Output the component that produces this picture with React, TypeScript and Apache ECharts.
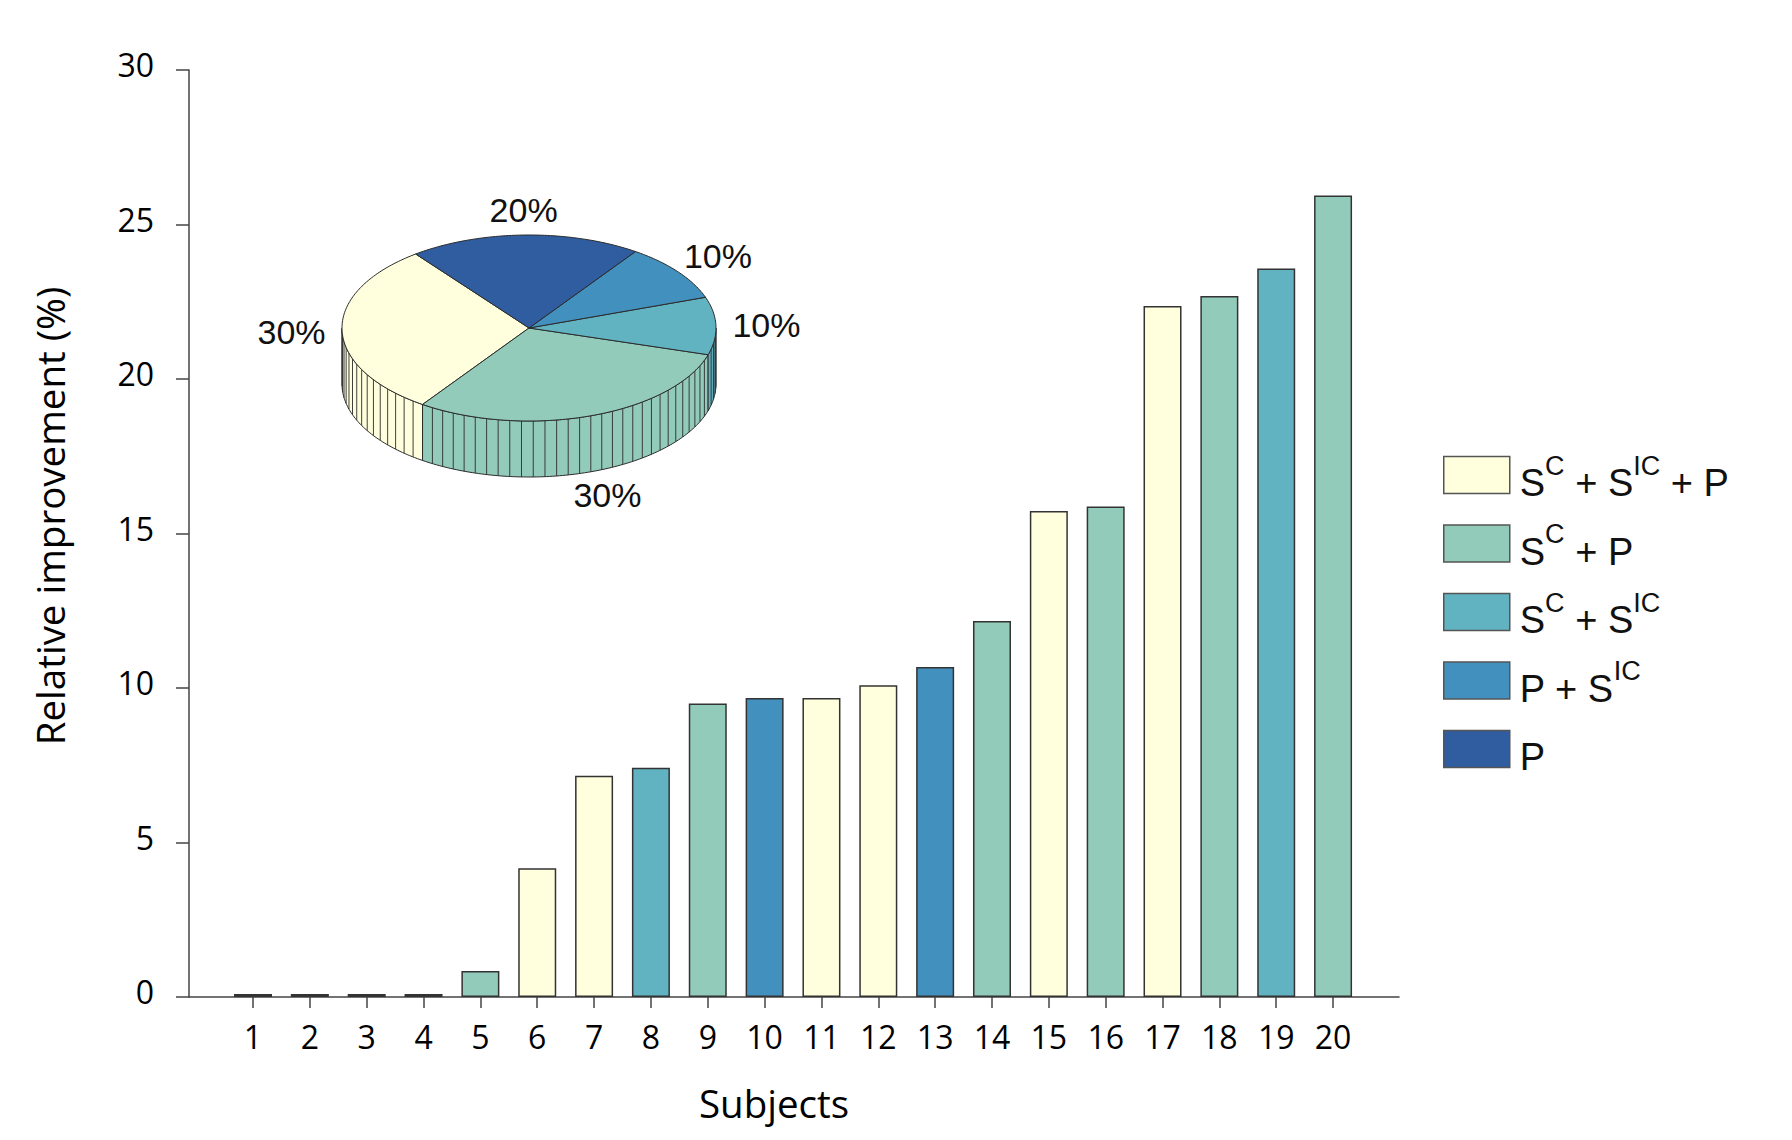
import React, { useEffect, useRef } from 'react';
import * as echarts from 'echarts';

// ---------- data ----------
const subjects = [1, 2, 3, 4, 5, 6, 7, 8, 9, 10, 11, 12, 13, 14, 15, 16, 17, 18, 19, 20];
const improvement = [0.1, 0.1, 0.1, 0.1, 0.84, 4.17, 7.16, 7.42, 9.5, 9.68, 9.68, 10.09, 10.68, 12.17, 15.73, 15.87, 22.36, 22.69, 23.58, 25.94];
const combination = [
  'P', 'P', 'P', 'P', 'SC + P',
  'SC + SIC + P', 'SC + SIC + P', 'SC + SIC', 'SC + P', 'P + SIC',
  'SC + SIC + P', 'SC + SIC + P', 'P + SIC', 'SC + P', 'SC + SIC + P',
  'SC + P', 'SC + SIC + P', 'SC + P', 'SC + SIC', 'SC + P',
];
const comboNames = ['SC + SIC + P', 'SC + P', 'SC + SIC', 'P + SIC', 'P'];
const comboColors = ['#FFFFDD', '#93CBBB', '#62B3C2', '#4290BD', '#2F5DA0'];
const pieShares = [30, 30, 10, 10, 20]; // percent of subjects per combination, same order as comboNames
const yTickMax = 30;
const yTickStep = 5;

const legendRich: Record<string, string> = {
  'SC + SIC + P': '{b|S}{s|C}{b| + S}{s|IC}{b| + P}',
  'SC + P': '{b|S}{s|C}{b| + P}',
  'SC + SIC': '{b|S}{s|C}{b| + S}{s|IC}',
  'P + SIC': '{b|P + S}{s|IC}',
  'P': '{b|P}',
};

// ---------- pie (3D look) layout ----------
const PIE = { cx: 529, cy: 328, rx: 187, ry: 93, depth: 56, startDeg: 232.7, segPerCircle: 100 };
const pieTotal = pieShares.reduce((a, b) => a + b, 0);
const pieCum: number[] = [];
pieShares.reduce((acc, v, i) => { pieCum[i] = acc; return acc + v; }, 0);

const TAU = Math.PI * 2;
const ex = (a: number) => PIE.cx + PIE.rx * Math.cos(a);
const ey = (a: number) => PIE.cy + PIE.ry * Math.sin(a);

function renderPieSlice(params: any, api: any) {
  const i = params.dataIndex;
  const share = api.value(0) as number;
  const color = comboColors[i];
  const a0 = (PIE.startDeg * Math.PI) / 180 - (TAU * pieCum[i]) / pieTotal;
  const a1 = a0 - (TAU * share) / pieTotal;
  const children: any[] = [];
  const stroke = '#2b2b2b';

  // walls (front half only: screen angles 0..PI)
  const nSeg = Math.max(1, Math.round((share / pieTotal) * PIE.segPerCircle));
  for (const off of [-TAU, 0, TAU]) {
    const lo = Math.max(a1 + off, 0);
    const hi = Math.min(a0 + off, Math.PI);
    if (hi - lo > 1e-4) {
      const steps = Math.max(2, Math.ceil((hi - lo) / (Math.PI / 180)));
      const top: number[][] = [];
      const bot: number[][] = [];
      for (let k = 0; k <= steps; k++) {
        const a = lo + ((hi - lo) * k) / steps;
        top.push([ex(a), ey(a)]);
        bot.push([ex(a), ey(a) + PIE.depth]);
      }
      children.push({
        type: 'polygon',
        shape: { points: top.concat(bot.reverse()) },
        style: { fill: color, stroke, lineWidth: 1 },
      });
      for (let k = 1; k < nSeg; k++) {
        const a = a1 + off + ((a0 - a1) * k) / nSeg;
        if (a > lo && a < hi) {
          children.push({
            type: 'line',
            shape: { x1: ex(a), y1: ey(a), x2: ex(a), y2: ey(a) + PIE.depth },
            style: { stroke, lineWidth: 0.9 },
          });
        }
      }
    }
  }

  // top face
  const steps = Math.max(2, Math.ceil((a0 - a1) / (Math.PI / 180)));
  const pts: number[][] = [[PIE.cx, PIE.cy]];
  for (let k = 0; k <= steps; k++) {
    const a = a0 + ((a1 - a0) * k) / steps;
    pts.push([ex(a), ey(a)]);
  }
  children.push({
    type: 'polygon',
    shape: { points: pts },
    style: { fill: color, stroke, lineWidth: 1 },
  });

  // label
  const mid = (a0 + a1) / 2;
  const s = Math.sin(mid);
  const c = Math.cos(mid);
  const k = 1.27;
  children.push({
    type: 'text',
    x: PIE.cx + k * PIE.rx * c,
    y: PIE.cy + k * PIE.ry * s + (s > 0 ? PIE.depth * s * 1.05 : 0),
    style: {
      text: share + '%',
      font: '34px "Liberation Sans", Arial, sans-serif',
      fill: '#111',
      align: 'center',
      verticalAlign: 'middle',
    },
  });

  return { type: 'group', children };
}

// ---------- option ----------
const axisColor = '#444';

const barSeries = comboNames.map((name, gi) => ({
  type: 'bar',
  name,
  barWidth: 38,
  barGap: '-100%',
  data: subjects
    .map((s, i) => (combination[i] === name ? [s, improvement[i]] : null))
    .filter((d) => d !== null),
  itemStyle: { color: comboColors[gi], borderColor: '#333', borderWidth: 1.5 },
  emphasis: { disabled: true },
}));

const option: any = {
  animation: false,
  backgroundColor: '#ffffff',
  grid: { left: 189, top: 70, width: 1210, height: 927, containLabel: false, outerBoundsMode: 'none' },
  xAxis: {
    type: 'value',
    min: -0.126,
    max: 21.16,
    axisLine: { show: true, onZero: false, lineStyle: { color: axisColor, width: 1.5 } },
    axisTick: { show: true, length: 11, customValues: subjects, lineStyle: { color: axisColor, width: 1.5 } },
    axisLabel: {
      customValues: subjects,
      fontFamily: '"Open Sans", sans-serif',
      fontSize: 32,
      color: '#000',
      margin: 23,
    },
    splitLine: { show: false },
  },
  yAxis: {
    type: 'value',
    min: 0,
    max: yTickMax,
    interval: yTickStep,
    axisLine: { show: true, onZero: false, lineStyle: { color: axisColor, width: 1.5 } },
    axisTick: { show: true, length: 13, lineStyle: { color: axisColor, width: 1.5 } },
    axisLabel: {
      fontFamily: '"Open Sans", sans-serif',
      fontSize: 32,
      color: '#000',
      margin: 35,
      verticalAlign: 'bottom',
      lineHeight: 11,
    },
    splitLine: { show: false },
  },
  legend: {
    orient: 'vertical',
    left: 1438,
    top: 443,
    itemWidth: 66,
    itemHeight: 37,
    itemGap: 14.5,
    icon: 'rect',
    selectedMode: false,
    data: comboNames,
    itemStyle: { borderColor: '#555', borderWidth: 1.5 },
    formatter: (n: string) => legendRich[n] || n,
    textStyle: {
      color: '#111',
      padding: [0, 0, 0, 5],
      rich: {
        b: { fontFamily: '"Liberation Sans", Arial, sans-serif', fontSize: 38, color: '#111', lineHeight: 21, padding: [16, 0, 0, 0] },
        s: { fontFamily: '"Liberation Sans", Arial, sans-serif', fontSize: 27, color: '#111', lineHeight: 26, padding: [0, 0, 19, 0] },
      },
    },
  },
  graphic: [
    {
      type: 'text',
      x: 50,
      y: 516,
      rotation: Math.PI / 2,
      style: {
        text: 'Relative improvement (%)',
        font: '38.5px "Open Sans", sans-serif',
        fill: '#000',
        align: 'center',
        verticalAlign: 'middle',
      },
    },
    {
      type: 'text',
      x: 774,
      y: 1103,
      style: {
        text: 'Subjects',
        font: '38.5px "Open Sans", sans-serif',
        fill: '#000',
        align: 'center',
        verticalAlign: 'middle',
      },
    },
  ],
  series: [
    ...barSeries,
    {
      type: 'custom',
      name: 'Combination share',
      coordinateSystem: 'none',
      renderItem: renderPieSlice,
      data: pieShares,
      silent: true,
      z: 5,
    },
  ],
};

export default function App() {
  const ref = useRef<HTMLDivElement>(null);
  useEffect(() => {
    document.body.style.margin = '0';
    const chart = echarts.init(ref.current as HTMLDivElement, null, { renderer: 'svg' });
    chart.setOption(option);
    return () => chart.dispose();
  }, []);
  return (
    <div
      ref={ref}
      style={{ position: 'absolute', left: 0, top: 0, width: 1792, height: 1140, background: '#fff' }}
    />
  );
}
